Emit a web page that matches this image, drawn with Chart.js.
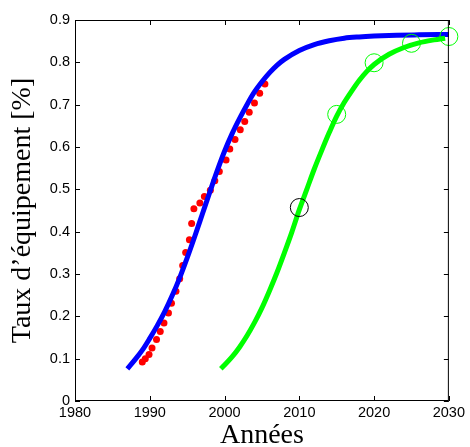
<!DOCTYPE html>
<html lang="fr">
<head>
  <meta charset="UTF-8" />
  <title>Taux d'équipement</title>
  <script src="https://cdn.jsdelivr.net/npm/chart.js"></script>
  <style>
    html, body {
      margin: 0;
      padding: 0;
      background: white;
    }
    #wrap {
      width: 470px;
      height: 447px;
    }
  </style>
</head>
<body>
  <div id="wrap"><canvas id="chart" width="470" height="447"></canvas></div>

  <script>
    // axes
    const xTicks = [1980, 1990, 2000, 2010, 2020, 2030];
    const yTicks = [0, 0.1, 0.2, 0.3, 0.4, 0.5, 0.6, 0.7, 0.8, 0.9];

    // donnees observees (points rouges)
    const obsYears = [1989.0, 1989.4, 1989.9, 1990.3, 1990.9, 1991.4, 1991.9, 1992.5, 1992.9, 1993.5,
                      1994.0, 1994.4, 1994.8, 1995.3, 1995.6, 1995.9, 1996.7, 1997.3, 1998.1, 1998.7,
                      1999.3, 2000.2, 2000.7, 2001.4, 2002.1, 2002.7, 2003.3, 2004.0, 2004.7, 2005.4];
    const obsRate = [0.092, 0.100, 0.110, 0.125, 0.145, 0.164, 0.184, 0.208, 0.231, 0.259,
                     0.289, 0.320, 0.351, 0.381, 0.419, 0.454, 0.468, 0.483, 0.498, 0.520,
                     0.542, 0.569, 0.595, 0.618, 0.641, 0.660, 0.682, 0.704, 0.727, 0.749];

    // courbe ajustee (bleu)
    const fitYears = [1987, 1988, 1989, 1990, 1991, 1992, 1993, 1994, 1995, 1996, 1997, 1998, 1999,
                      2000, 2001, 2002, 2003, 2004, 2005, 2006, 2007, 2008, 2010, 2012, 2014, 2016,
                      2018, 2020, 2023, 2026, 2030];
    const fitRate = [0.076, 0.097, 0.120, 0.148, 0.178, 0.211, 0.249, 0.291, 0.338, 0.388, 0.440, 0.492, 0.543,
                     0.590, 0.631, 0.667, 0.700, 0.730, 0.754, 0.775, 0.793, 0.807, 0.828, 0.842, 0.851, 0.857,
                     0.860, 0.862, 0.864, 0.865, 0.866];

    // projection (vert)
    const projYears = [1999.5, 2000, 2001, 2002, 2003, 2004, 2005, 2006, 2007, 2008, 2009, 2010,
                       2011, 2012, 2013, 2014, 2015, 2016, 2017, 2018, 2019, 2020, 2022, 2024,
                       2026, 2028, 2029.5];
    const projRate = [0.076, 0.085, 0.104, 0.127, 0.154, 0.185, 0.220, 0.260, 0.303, 0.350, 0.399, 0.452,
                      0.500, 0.548, 0.592, 0.634, 0.673, 0.705, 0.732, 0.757, 0.778, 0.795, 0.819, 0.835,
                      0.846, 0.853, 0.857];

    // cercles
    const markYears = [2015, 2020, 2025, 2030];
    const markRate = [0.677, 0.799, 0.845, 0.861];
    const refYear = [2010];
    const refRate = [0.457];

    const pts = (xs, ys) => xs.map((x, i) => ({ x: x, y: ys[i] }));

    // cadre + graduations vers l'interieur (style matlab)
    const boxPlugin = {
      id: 'box',
      afterDraw(chart) {
        const { ctx, chartArea: a, scales } = chart;
        const len = 5;
        ctx.save();
        ctx.strokeStyle = '#000';
        ctx.lineWidth = 1;
        ctx.strokeRect(a.left + 0.5, a.top + 0.5, a.right - a.left - 1, a.bottom - a.top - 1);
        ctx.beginPath();
        xTicks.forEach(v => {
          const px = Math.round(scales.x.getPixelForValue(v)) + 0.5;
          ctx.moveTo(px, a.bottom); ctx.lineTo(px, a.bottom - len);
          ctx.moveTo(px, a.top); ctx.lineTo(px, a.top + len);
        });
        yTicks.forEach(v => {
          const py = Math.round(scales.y.getPixelForValue(v)) + 0.5;
          ctx.moveTo(a.left, py); ctx.lineTo(a.left + len, py);
          ctx.moveTo(a.right, py); ctx.lineTo(a.right - len, py);
        });
        ctx.stroke();
        ctx.restore();
      }
    };

    new Chart(document.getElementById('chart'), {
      type: 'line',
      data: {
        datasets: [
          {
            data: pts(markYears, markRate),
            showLine: false,
            pointRadius: 9,
            pointBorderWidth: 1,
            pointBorderColor: '#00ff00',
            pointBackgroundColor: 'rgba(0,0,0,0)',
            clip: false,
            order: 0
          },
          {
            data: pts(refYear, refRate),
            showLine: false,
            pointRadius: 9,
            pointBorderWidth: 1,
            pointBorderColor: '#000',
            pointBackgroundColor: 'rgba(0,0,0,0)',
            order: 0
          },
          {
            data: pts(projYears, projRate),
            borderColor: '#00ff00',
            borderWidth: 5,
            pointRadius: 0,
            cubicInterpolationMode: 'monotone',
            order: 1
          },
          {
            data: pts(fitYears, fitRate),
            borderColor: '#0000ff',
            borderWidth: 5,
            pointRadius: 0,
            cubicInterpolationMode: 'monotone',
            order: 1
          },
          {
            data: pts(obsYears, obsRate),
            showLine: false,
            pointRadius: 3.5,
            pointBorderWidth: 0,
            pointBackgroundColor: '#ff0000',
            order: 2
          }
        ]
      },
      options: {
        responsive: false,
        animation: false,
        layout: { padding: { top: 20, right: 15, left: 0, bottom: 0 } },
        plugins: {
          legend: { display: false },
          tooltip: { enabled: false }
        },
        scales: {
          x: {
            type: 'linear',
            min: 1980,
            max: 2030,
            afterBuildTicks: s => { s.ticks = xTicks.map(v => ({ value: v })); },
            afterFit: s => { s.height = 46; },
            grid: { display: false, drawTicks: false },
            border: { display: false },
            ticks: {
              color: '#000',
              padding: 5,
              maxRotation: 0,
              font: { family: 'Liberation Sans', size: 14.5, lineHeight: 1 },
              callback: v => String(v)
            },
            title: {
              display: true,
              text: 'Années',
              color: '#000',
              padding: 0,
              font: { family: 'Liberation Serif', size: 28, lineHeight: 0.8 }
            }
          },
          y: {
            min: 0,
            max: 0.9,
            afterBuildTicks: s => { s.ticks = yTicks.map(v => ({ value: v })); },
            afterFit: s => { s.width = 75; },
            grid: { display: false, drawTicks: false },
            border: { display: false },
            ticks: {
              color: '#000',
              padding: 5,
              font: { family: 'Liberation Sans', size: 14.5 },
              callback: v => (v === 0 ? '0' : v.toFixed(1))
            },
            title: {
              display: true,
              text: 'Taux d\u2019équipement [%]',
              color: '#000',
              padding: { top: 9, bottom: 0 },
              font: { family: 'Liberation Serif', size: 28, lineHeight: 1 }
            }
          }
        }
      },
      plugins: [boxPlugin]
    });
  </script>
</body>
</html>
